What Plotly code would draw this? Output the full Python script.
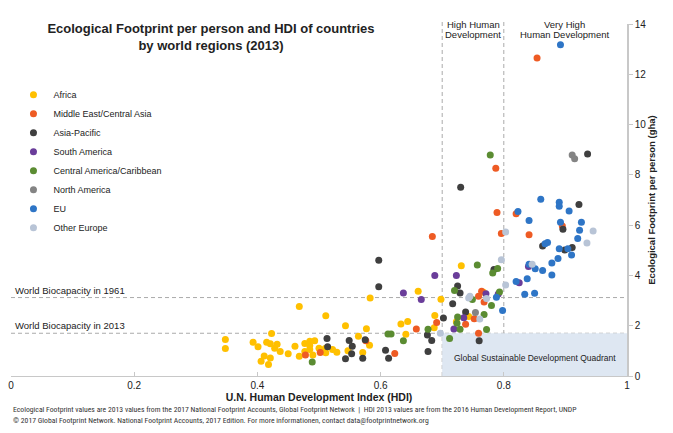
import plotly.graph_objects as go

# ---------------- data (HDI, Ecological Footprint gha/person) ----------------
regions = ["Africa", "Middle East/Central Asia", "Asia-Pacific", "South America",
           "Central America/Caribbean", "North America", "EU", "Other Europe"]

africa_hdi = [0.348, 0.348, 0.393, 0.401, 0.415, 0.423, 0.421, 0.428, 0.432, 0.437, 0.411, 0.421,
              0.406, 0.418, 0.450, 0.461, 0.468, 0.468, 0.477, 0.485, 0.493, 0.485, 0.485, 0.477,
              0.490, 0.500, 0.504, 0.510, 0.511, 0.511, 0.522, 0.529, 0.543, 0.547, 0.564, 0.577,
              0.582, 0.571, 0.583, 0.661, 0.633, 0.644, 0.641, 0.687, 0.688, 0.698, 0.731, 0.767,
              0.743, 0.723]
africa_ef = [1.45, 1.09, 1.34, 1.16, 1.34, 1.69, 1.28, 1.10, 1.26, 0.97, 0.80, 0.72,
             0.59, 0.46, 0.88, 1.18, 2.76, 0.79, 1.29, 1.38, 1.40, 1.21, 1.05, 0.97,
             0.84, 1.10, 1.00, 1.09, 0.92, 2.40, 1.05, 0.94, 2.00, 1.00, 1.58, 1.88,
             1.22, 0.93, 3.10, 3.37, 2.07, 2.17, 1.66, 1.92, 2.41, 3.05, 4.38, 3.33,
             2.37, 2.16]

mideast_hdi = [0.478, 0.502, 0.576, 0.623, 0.658, 0.691, 0.684, 0.787, 0.789, 0.820, 0.895,
               0.796, 0.841, 0.764, 0.759, 0.768, 0.752, 0.738, 0.759, 0.854]
mideast_ef = [0.84, 0.93, 1.40, 0.89, 1.87, 2.13, 5.55, 8.26, 6.50, 6.45, 5.97,
              5.67, 5.62, 3.37, 3.17, 2.94, 2.28, 2.06, 1.70, 12.65]

asia_hdi = [0.597, 0.597, 0.513, 0.514, 0.549, 0.554, 0.553, 0.543, 0.575, 0.571, 0.608, 0.613,
            0.676, 0.683, 0.677, 0.702, 0.730, 0.922, 0.896, 0.863, 0.899, 0.911, 0.784, 0.725,
            0.729, 0.717, 0.738, 0.760, 0.936]
asia_ef = [4.60, 3.55, 1.49, 1.16, 1.41, 1.18, 0.88, 0.69, 1.44, 0.71, 1.02, 0.71,
           1.63, 1.41, 0.97, 2.31, 7.51, 6.82, 5.84, 5.17, 5.01, 5.11, 4.24, 3.58,
           3.30, 2.87, 2.55, 1.40, 8.83]

samerica_hdi = [0.637, 0.666, 0.688, 0.723, 0.840, 0.825, 0.771, 0.791, 0.735, 0.719]
samerica_ef = [3.30, 3.04, 4.00, 4.00, 4.36, 3.71, 3.27, 3.26, 2.32, 1.87]

camerica_hdi = [0.489, 0.617, 0.612, 0.637, 0.677, 0.712, 0.757, 0.790, 0.782, 0.720, 0.793,
                0.749, 0.780, 0.768, 0.725, 0.724, 0.729, 0.772, 0.778]
camerica_ef = [0.56, 1.67, 1.67, 1.40, 1.86, 1.49, 4.41, 4.28, 4.10, 3.40, 3.34,
               3.04, 2.80, 2.45, 2.35, 2.10, 1.86, 1.85, 8.79]

namerica_hdi = [0.911, 0.915, 0.754]
namerica_ef = [8.79, 8.64, 2.53]

eu_hdi = [0.892, 0.860, 0.890, 0.890, 0.823, 0.906, 0.841, 0.892, 0.926, 0.923, 0.920, 0.871,
          0.867, 0.890, 0.904, 0.910, 0.888, 0.878, 0.841, 0.851, 0.863, 0.878, 0.838, 0.820,
          0.834, 0.850, 0.788, 0.798]
eu_ef = [13.17, 7.03, 6.91, 6.75, 6.54, 6.56, 6.18, 6.12, 6.12, 5.80, 5.47, 5.31,
         5.26, 5.06, 5.06, 4.81, 4.67, 4.49, 4.44, 4.27, 4.20, 4.02, 3.87, 3.76,
         3.25, 3.29, 3.13, 2.61]

oeurope_hdi = [0.945, 0.935, 0.803, 0.796, 0.846, 0.803, 0.745, 0.743, 0.761, 0.697, 0.772]
oeurope_ef = [5.77, 5.29, 5.73, 4.62, 4.44, 3.62, 3.17, 3.10, 2.27, 1.70, 3.08]

series_x = [africa_hdi, mideast_hdi, asia_hdi, samerica_hdi, camerica_hdi, namerica_hdi, eu_hdi, oeurope_hdi]
series_y = [africa_ef, mideast_ef, asia_ef, samerica_ef, camerica_ef, namerica_ef, eu_ef, oeurope_ef]
colors = ["#FFC000", "#EE5B24", "#3F3F3F", "#6A3D9A", "#5B8C32", "#848484", "#2E75C6", "#B8C4D6"]

x_ticks = [0, 0.2, 0.4, 0.6, 0.8, 1]
x_ticklabels = ["0", "0.2", "0.4", "0.6", "0.8", "1"]
y_ticks = [0, 2, 4, 6, 8, 10, 12, 14]

biocap_1961 = 3.12
biocap_2013 = 1.7
hdi_high = 0.7
hdi_very_high = 0.8

FONT = "Arial, Liberation Sans, Helvetica, sans-serif"
NARROW = "Liberation Sans Narrow, Arial Narrow, Roboto Condensed, Liberation Sans, Arial, sans-serif"
TXT = "#222222"

# the page body adds an 8px offset; figure is sized so the plot lands where the reference has it
W, H = 665, 425

fig = go.Figure()

for i in range(len(regions)):
    fig.add_trace(go.Scatter(
        x=series_x[i], y=series_y[i], mode="markers", name=regions[i],
        legendgroup=regions[i],
        marker=dict(size=7, color=colors[i], line=dict(width=0)),
        hoverinfo="x+y+name",
    ))

dash = dict(color="#AAAAAA", width=1, dash="4px,3px")
shapes = [
    dict(type="rect", xref="x", yref="y", x0=hdi_high, x1=1, y0=0, y1=biocap_2013,
         fillcolor="#DEE7F2", line=dict(width=0), layer="below"),
    dict(type="line", xref="paper", yref="y", x0=0, x1=1, y0=biocap_1961, y1=biocap_1961,
         line=dash, layer="below"),
    dict(type="line", xref="paper", yref="y", x0=0, x1=1, y0=biocap_2013, y1=biocap_2013,
         line=dash, layer="below"),
    dict(type="line", xref="x", yref="paper", x0=hdi_high, x1=hdi_high, y0=0, y1=1.012,
         line=dash, layer="below"),
    dict(type="line", xref="x", yref="paper", x0=hdi_very_high, x1=hdi_very_high, y0=0, y1=1.012,
         line=dash, layer="below"),
]

ann = []
def add_text(text, x, y, xref="x", yref="y", size=9.5, xanchor="center", yanchor="middle",
             bold=False, family=FONT, color=TXT):
    ann.append(dict(text=("<b>%s</b>" % text) if bold else text, x=x, y=y, xref=xref, yref=yref,
                    showarrow=False, xanchor=xanchor, yanchor=yanchor,
                    font=dict(size=size, family=family, color=color)))

add_text("World Biocapacity in 1961", 0.0025, biocap_1961 + 0.3, size=9.5, xanchor="left")
add_text("World Biocapacity in 2013", 0.0025, biocap_2013 + 0.3, size=9.5, xanchor="left")
add_text("High Human", 0.75, 1.0, yref="paper", size=9.5)
add_text("Development", 0.75, 0.971, yref="paper", size=9.5)
add_text("Very High", 0.899, 1.0, yref="paper", size=9.5)
add_text("Human Development", 0.899, 0.971, yref="paper", size=9.5)
add_text("Global Sustainable Development Quadrant", 0.851, 0.7, size=8.5)

add_text("Ecological Footprint values are 2013 values from the 2017 National Footprint Accounts, "
         "Global Footprint Network  |  HDI 2013 values are from the 2016 Human Development Report, UNDP",
         0.0, -0.095, xref="paper", yref="paper", size=7.7, xanchor="left", family=NARROW, color="#333333")
add_text("\u00a9 2017 Global Footprint Network. National Footprint Accounts, 2017 Edition. "
         "For more informationen, contact data@footprintnetwork.org",
         0.0, -0.126, xref="paper", yref="paper", size=7.7, xanchor="left", family=NARROW, color="#333333")

fig.update_layout(
    width=W, height=H,
    margin=dict(l=2.5, r=W + 8 - 627.5, t=16, b=H + 8 - 376.5, autoexpand=False),
    paper_bgcolor="white", plot_bgcolor="white",
    font=dict(family=FONT, color=TXT, size=10),
    title=dict(text="<b>Ecological Footprint per person and HDI of countries<br>by world regions (2013)</b>",
               x=(211 - 8) / W, xanchor="center", xref="container",
               y=1 - (33 - 8) / H, yanchor="middle", yref="container",
               font=dict(size=13, family=FONT, color=TXT)),
    xaxis=dict(range=[0, 1], tickvals=x_ticks, ticktext=x_ticklabels,
               showgrid=False, zeroline=False, showline=True, linecolor="#C8C8C8", linewidth=1,
               ticks="inside", ticklen=4, tickcolor="#C8C8C8",
               tickfont=dict(size=10, color=TXT),
               title=dict(text="<b>U.N. Human Development Index (HDI)</b>", standoff=2,
                          font=dict(size=10.5, color=TXT))),
    yaxis=dict(range=[0, 14], tickvals=y_ticks, side="right",
               showgrid=False, zeroline=False, showline=True, linecolor="#C8C8C8", linewidth=1.5,
               ticks="outside", ticklen=4, tickcolor="#C8C8C8",
               tickfont=dict(size=10, color=TXT),
               title=dict(text="<b>Ecological Footprint per person (gha)</b>", standoff=2,
                          font=dict(size=9.5, color=TXT))),
    legend=dict(x=0.004, y=0.84, xanchor="left", yanchor="top",
                font=dict(size=9, family=FONT, color=TXT),
                bgcolor="rgba(0,0,0,0)", itemwidth=30, tracegroupgap=0),
    shapes=shapes,
    annotations=ann,
)

fig.write_html("out.html")
